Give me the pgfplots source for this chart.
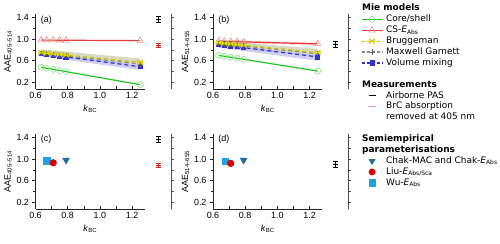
\documentclass[border=0pt]{standalone}
\usepackage{pgfplots}
\pgfplotsset{compat=1.18}
\usepackage{fontspec}
\setmainfont{Liberation Sans}
\newfontfamily\legfont{DejaVu Sans}

\definecolor{csgreen}{HTML}{22C322}
\definecolor{csgreenlt}{HTML}{88E088}
\definecolor{csred}{HTML}{E03C3C}
\definecolor{csredlt}{HTML}{F28C8C}
\definecolor{brugy}{HTML}{C8C400}
\definecolor{brugfill}{HTML}{E6E21A}
\definecolor{mggrey}{HTML}{8A8A8A}
\definecolor{vmblue}{HTML}{3333C8}
\definecolor{bandgrey}{HTML}{C9C8A8}
\definecolor{bandblue}{HTML}{AFAFEE}
\definecolor{bandpink}{HTML}{F6C4C4}
\definecolor{chak}{HTML}{1F6CA3}
\definecolor{liu}{HTML}{D60000}
\definecolor{wu}{HTML}{1EA2E8}
\definecolor{brc}{HTML}{D42020}

\pgfdeclareplotmark{bowtie}{%
  \pgfpathmoveto{\pgfqpoint{-\pgfplotmarksize}{\pgfplotmarksize}}%
  \pgfpathlineto{\pgfqpoint{\pgfplotmarksize}{-\pgfplotmarksize}}%
  \pgfpathlineto{\pgfqpoint{\pgfplotmarksize}{\pgfplotmarksize}}%
  \pgfpathlineto{\pgfqpoint{-\pgfplotmarksize}{-\pgfplotmarksize}}%
  \pgfpathclose\pgfusepathqfillstroke}

\pgfplotsset{
  mainax/.style={scale only axis, anchor=south west, width=109.5bp, height=75bp,
    xmin=0.6, xmax=1.28, ymin=0.08, ymax=1.46,
    axis x line*=bottom, axis y line*=left,
    xtick={0.6,0.8,1.0,1.2}, ytick={0.2,0.6,1.0,1.4},
    minor x tick num=1, minor y tick num=1,
    xtick align=inside, ytick align=outside,
    major tick length=3bp, minor tick length=2.5bp,
    axis line style={line width=0.8bp, black!85},
    every tick/.style={black!85, line width=0.6bp},
    /pgf/number format/assume math mode=true,
    tick label style={font=\fontsize{9}{10}\selectfont,
      /pgf/number format/fixed, /pgf/number format/fixed zerofill,
      /pgf/number format/precision=1},
    label style={font=\fontsize{9}{10}\selectfont},
    ylabel shift=-2bp, xlabel shift=-1bp,
    xlabel={\textit{k}\textsubscript{BC}},
    clip=false},
  stripax/.style={scale only axis, anchor=south west, width=21bp, height=75bp,
    xmin=0, xmax=1, ymin=0.08, ymax=1.46,
    axis x line=none, axis y line*=right,
    ytick={0.2,0.6,1.0,1.4}, minor y tick num=1, yticklabels={},
    ytick align=outside, major tick length=3bp, minor tick length=3bp,
    axis line style={line width=0.8bp, black!70},
    every tick/.style={black!70, line width=0.6bp}, clip=false},
  csline/.style={csgreen, line width=1.2bp, mark=o, mark size=3bp,
    mark options={solid, draw=csgreenlt, line width=0.6bp}},
  cseline/.style={csred, line width=1.2bp, mark=triangle, mark size=3.6bp,
    mark options={solid, draw=csredlt, line width=0.6bp}},
  brugline/.style={brugy, line width=1.2bp, dash pattern=on 4bp off 3bp, mark=bowtie, mark size=2.6bp,
    mark options={solid, fill=brugfill, draw=brugy, line width=0.4bp}},
  mgline/.style={mggrey, line width=1.2bp, dash pattern=on 4bp off 3bp, mark=+, mark size=2.6bp,
    mark options={solid, draw=black!60, line width=0.7bp}},
  vmline/.style={vmblue, line width=1.2bp, dash pattern=on 4bp off 3bp, mark=square*, mark size=2bp,
    mark options={solid, fill=vmblue, draw=vmblue}},
  errbar/.style={mark=-, mark size=2.4bp, line width=0.6bp,
    error bars/.cd, y dir=both, y explicit,
    error bar style={line width=0.6bp},
    error mark options={rotate=90, mark size=2.4bp, line width=0.6bp}},
  mylegimg/.style={legend image code/.code={\draw[mark repeat=2, mark phase=2, ##1] plot coordinates {(0bp,0bp) (10.5bp,0bp) (21bp,0bp)};}},
  shortleg/.style={legend image code/.code={\draw[##1] (7bp,0bp) -- (14bp,0bp);}},
}

\begin{document}
\begin{tikzpicture}
\path[use as bounding box] (0bp,0bp) rectangle (500bp,244bp);

% ---------------- (a) ----------------
\begin{axis}[mainax, at={(35.5bp,155bp)}, ylabel={AAE\textsubscript{405–514}}]
\addplot[bandgrey, fill=bandgrey, fill opacity=0.7, draw=none, forget plot] coordinates {(0.635,0.81) (1.25,0.64) (1.25,0.52) (0.635,0.69)} -- cycle;
\addplot[bandblue, fill=bandblue, fill opacity=0.6, draw=none, forget plot] coordinates {(0.635,0.75) (1.25,0.52) (1.25,0.43) (0.635,0.68)} -- cycle;
\addplot[csline] coordinates {(0.635,0.48) (0.67,0.462) (0.71,0.441) (0.75,0.420) (0.79,0.399) (1.25,0.16)};
\addplot[cseline] coordinates {(0.635,0.98) (0.67,0.979) (0.71,0.979) (0.75,0.978) (0.79,0.977) (1.25,0.97)};
\addplot[vmline] coordinates {(0.635,0.73) (0.67,0.716) (0.71,0.701) (0.75,0.685) (0.79,0.670) (1.25,0.49)};
\addplot[mgline] coordinates {(0.635,0.74) (0.67,0.729) (0.71,0.716) (0.75,0.703) (0.79,0.690) (1.25,0.54)};
\addplot[brugline] coordinates {(0.635,0.75) (0.67,0.740) (0.71,0.728) (0.75,0.716) (0.79,0.705) (1.25,0.57)};
\node[anchor=west, font=\fontsize{9}{10}\selectfont] at (axis cs:0.612,1.34) {(a)};
\end{axis}
\begin{axis}[stripax, at={(150bp,155bp)}]
\addplot[black, errbar] coordinates {(0.4,1.36) +- (0,0.05)};
\addplot[brc, errbar] coordinates {(0.4,0.89) +- (0,0.035)};
\end{axis}

% ---------------- (b) ----------------
\begin{axis}[mainax, at={(213bp,155bp)}, ylabel={AAE\textsubscript{514–655}}]
\addplot[bandpink, fill=bandpink, fill opacity=0.7, draw=none, forget plot] coordinates {(0.635,0.985) (1.25,0.935) (1.25,0.885) (0.635,0.935)} -- cycle;
\addplot[bandgrey, fill=bandgrey, fill opacity=0.7, draw=none, forget plot] coordinates {(0.635,0.97) (1.25,0.82) (1.25,0.68) (0.635,0.86)} -- cycle;
\addplot[bandblue, fill=bandblue, fill opacity=0.6, draw=none, forget plot] coordinates {(0.635,0.91) (1.25,0.70) (1.25,0.60) (0.635,0.84)} -- cycle;
\addplot[csline] coordinates {(0.635,0.70) (0.67,0.683) (0.71,0.665) (0.75,0.646) (0.79,0.627) (1.25,0.41)};
\addplot[cseline] coordinates {(0.635,0.96) (0.67,0.957) (0.71,0.954) (0.75,0.951) (0.79,0.947) (1.25,0.91)};
\addplot[vmline] coordinates {(0.635,0.90) (0.67,0.887) (0.71,0.872) (0.75,0.857) (0.79,0.842) (1.25,0.67)};
\addplot[mgline] coordinates {(0.635,0.92) (0.67,0.909) (0.71,0.897) (0.75,0.884) (0.79,0.872) (1.25,0.73)};
\addplot[brugline] coordinates {(0.635,0.93) (0.67,0.920) (0.71,0.908) (0.75,0.896) (0.79,0.885) (1.25,0.75)};
\node[anchor=west, font=\fontsize{9}{10}\selectfont] at (axis cs:0.612,1.34) {(b)};
\end{axis}
\begin{axis}[stripax, at={(327bp,155bp)}]
\addplot[black, errbar] coordinates {(0.4,0.90) +- (0,0.05)};
\end{axis}

% ---------------- (c) ----------------
\begin{axis}[mainax, at={(35.5bp,35bp)}, ylabel={AAE\textsubscript{405–514}}]
\addplot[only marks, mark=triangle*, mark size=4bp, mark options={rotate=180, fill=chak, draw=chak}] coordinates {(0.79,0.98)};
\addplot[only marks, mark=square*, mark size=3.3bp, mark options={fill=wu, draw=wu}] coordinates {(0.67,0.97)};
\addplot[only marks, mark=*, mark size=3.4bp, mark options={fill=liu, draw=liu}] coordinates {(0.71,0.93)};
\node[anchor=west, font=\fontsize{9}{10}\selectfont] at (axis cs:0.612,1.36) {(c)};
\end{axis}
\begin{axis}[stripax, at={(150bp,35bp)}]
\addplot[black, errbar] coordinates {(0.4,1.36) +- (0,0.05)};
\addplot[brc, errbar] coordinates {(0.4,0.89) +- (0,0.035)};
\end{axis}

% ---------------- (d) ----------------
\begin{axis}[mainax, at={(213bp,35bp)}, ylabel={AAE\textsubscript{514–655}}]
\addplot[only marks, mark=triangle*, mark size=4bp, mark options={rotate=180, fill=chak, draw=chak}] coordinates {(0.79,0.98)};
\addplot[only marks, mark=square*, mark size=3.3bp, mark options={fill=wu, draw=wu}] coordinates {(0.675,0.96)};
\addplot[only marks, mark=*, mark size=3.4bp, mark options={fill=liu, draw=liu}] coordinates {(0.71,0.92)};
\node[anchor=west, font=\fontsize{9}{10}\selectfont] at (axis cs:0.612,1.36) {(d)};
\end{axis}
\begin{axis}[stripax, at={(327bp,35bp)}]
\addplot[black, errbar] coordinates {(0.4,0.90) +- (0,0.05)};
\end{axis}

% ---------------- legend ----------------
\begin{axis}[hide axis, scale only axis, anchor=north west, at={(361bp,241bp)},
  width=130bp, height=100bp, xmin=0, xmax=1, ymin=0, ymax=1,
  legend style={at={(0,1)}, anchor=north west, draw=none, fill=none,
    font=\legfont\fontsize{9}{10}\selectfont, inner sep=0pt, outer sep=0pt,
    row sep=0pt, column sep=3bp,
    nodes={inner sep=0pt, text height=7.9bp, text depth=3bp}},
  legend cell align=left, mylegimg]
\addlegendimage{empty legend}\addlegendentry{\hspace*{-24bp}\textbf{Mie models}}
\addlegendimage{csline}\addlegendentry{Core/shell}
\addlegendimage{cseline}\addlegendentry{CS-\textit{E}\textsubscript{Abs}}
\addlegendimage{brugline, dash pattern=on 3bp off 2bp}\addlegendentry{Bruggeman}
\addlegendimage{mgline, dash pattern=on 3bp off 2bp}\addlegendentry{Maxwell Garnett}
\addlegendimage{vmline, dash pattern=on 3bp off 2bp}\addlegendentry{Volume mixing}
\addlegendimage{empty legend}\addlegendentry{}
\addlegendimage{empty legend}\addlegendentry{\hspace*{-24bp}\textbf{Measurements}}
\addlegendimage{shortleg, black, line width=0.8bp}\addlegendentry{Airborne PAS}
\addlegendimage{shortleg, csredlt, line width=0.8bp}\addlegendentry{BrC absorption}
\addlegendimage{empty legend}\addlegendentry{removed at 405 nm}
\addlegendimage{empty legend}\addlegendentry{}
\addlegendimage{empty legend}\addlegendentry{\hspace*{-24bp}\textbf{Semiempirical}}
\addlegendimage{empty legend}\addlegendentry{\hspace*{-24bp}\textbf{parameterisations}}
\addlegendimage{only marks, mark=triangle*, mark size=3.6bp, mark options={rotate=180, fill=chak, draw=chak}}\addlegendentry{Chak-MAC and Chak-\textit{E}\textsubscript{Abs}}
\addlegendimage{only marks, mark=*, mark size=3.2bp, mark options={fill=liu, draw=liu}}\addlegendentry{Liu-\textit{E}\textsubscript{Abs/Sca}}
\addlegendimage{only marks, mark=square*, mark size=3.2bp, mark options={fill=wu, draw=wu}}\addlegendentry{Wu-\textit{E}\textsubscript{Abs}}
\end{axis}
\end{tikzpicture}
\end{document}
